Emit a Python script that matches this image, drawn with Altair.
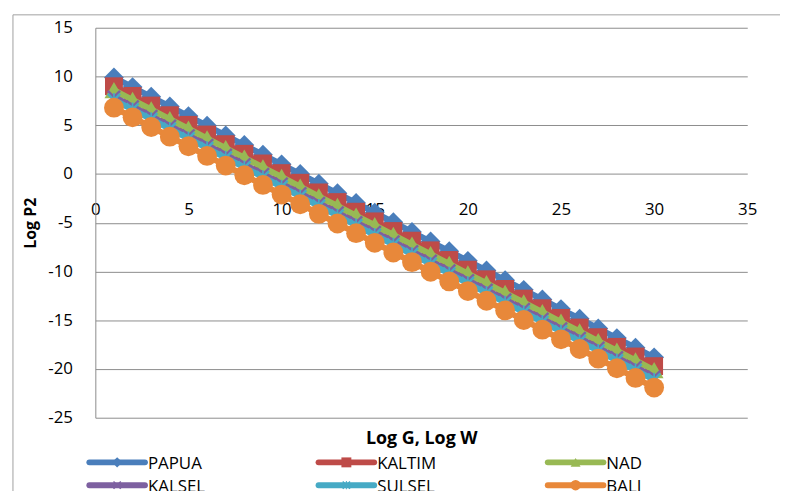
import altair as alt
import pandas as pd

# ---------------- data ----------------
X_VALUES = list(range(1, 31))
SERIES = ["PAPUA", "KALTIM", "NAD", "KALSEL", "SULSEL", "BALI"]

PAPUA = [9.90, 8.91, 7.92, 6.93, 5.94, 4.95, 3.96, 2.97, 1.98, 0.99, 0.00, -0.99,
         -1.98, -2.97, -3.96, -4.95, -5.94, -6.93, -7.92, -8.91, -9.90, -10.89,
         -11.88, -12.87, -13.86, -14.85, -15.84, -16.83, -17.82, -18.81]
KALTIM = [9.00, 8.01, 7.02, 6.03, 5.04, 4.05, 3.06, 2.07, 1.08, 0.09, -0.90, -1.89,
          -2.88, -3.87, -4.86, -5.85, -6.84, -7.83, -8.82, -9.81, -10.80, -11.79,
          -12.78, -13.77, -14.76, -15.75, -16.74, -17.73, -18.72, -19.71]
NAD = [8.60, 7.61, 6.62, 5.63, 4.64, 3.65, 2.66, 1.67, 0.68, -0.31, -1.30, -2.29,
       -3.28, -4.27, -5.26, -6.25, -7.24, -8.23, -9.22, -10.21, -11.20, -12.19,
       -13.18, -14.17, -15.16, -16.15, -17.14, -18.13, -19.12, -20.11]
KALSEL = [7.90, 6.91, 5.92, 4.93, 3.94, 2.95, 1.96, 0.97, -0.02, -1.01, -2.00, -2.99,
          -3.98, -4.97, -5.96, -6.95, -7.94, -8.93, -9.92, -10.91, -11.90, -12.89,
          -13.88, -14.87, -15.86, -16.85, -17.84, -18.83, -19.82, -20.81]
SULSEL = [7.60, 6.61, 5.62, 4.63, 3.64, 2.65, 1.66, 0.67, -0.32, -1.31, -2.30, -3.29,
          -4.28, -5.27, -6.26, -7.25, -8.24, -9.23, -10.22, -11.21, -12.20, -13.19,
          -14.18, -15.17, -16.16, -17.15, -18.14, -19.13, -20.12, -21.11]
BALI = [6.80, 5.81, 4.82, 3.83, 2.84, 1.85, 0.86, -0.13, -1.12, -2.11, -3.10, -4.09,
        -5.08, -6.07, -7.06, -8.05, -9.04, -10.03, -11.02, -12.01, -13.00, -13.99,
        -14.98, -15.97, -16.96, -17.95, -18.94, -19.93, -20.92, -21.91]
VALUES = [PAPUA, KALTIM, NAD, KALSEL, SULSEL, BALI]

X_TICKS = [0, 5, 10, 15, 20, 25, 30, 35]
Y_TICKS = [-25, -20, -15, -10, -5, 0, 5, 10, 15]

# ---------------- styles ----------------
COLORS = ["#4A7EBB", "#BE4B48", "#98B954", "#7D60A0", "#46AAC5", "#E8883A"]
X_PATH = ("M-1,-0.75L-0.75,-1L0,-0.25L0.75,-1L1,-0.75L0.25,0L1,0.75L0.75,1"
          "L0,0.25L-0.75,1L-1,0.75L-0.25,0Z")
STAR_PATH = X_PATH + "M-0.12,-1H0.12V-0.3H-0.12ZM-0.12,0.3H0.12V1H-0.12Z"
SHAPES = ["diamond", "square", "triangle-up", X_PATH, STAR_PATH, "circle"]
SIZES = [400, 324, 361, 196, 196, 400]
LEG_SIZES = [110, 100, 100, 70, 70, 110]

FONT = "Open Sans"
GRAY = "#8C8C8C"
W, H = 657, 393

rows = []
for name, vals in zip(SERIES, VALUES):
    for x, y in zip(X_VALUES, vals):
        rows.append({"series": name, "x": x, "y": y})
df = pd.DataFrame(rows)

x_enc = alt.X(
    "x:Q",
    scale=alt.Scale(domain=[0, 35], nice=False, zero=False),
    axis=alt.Axis(
        values=X_TICKS, title="Log G, Log W", offset=-220, domain=False, ticks=False,
        grid=False, labelPadding=2, labelFont=FONT, labelFontSize=17, labelColor="black",
        labelFlush=False, labelOverlap=False, labelExpr="datum.value + ''",
        titleFont=FONT, titleFontSize=18, titleFontWeight="bold", titleColor="black",
        titleY=246, titleBaseline="alphabetic",
    ),
)
y_enc = alt.Y(
    "y:Q",
    scale=alt.Scale(domain=[-25, 15], nice=False, zero=False),
    axis=alt.Axis(
        values=Y_TICKS, title="Log P2", domain=True, domainColor=GRAY, domainWidth=1,
        ticks=False, grid=True, gridColor=GRAY, gridWidth=1, labelPadding=23,
        labelFont=FONT, labelFontSize=17, labelColor="black", labelFlush=False,
        labelExpr="datum.value + ''",
        titleFont=FONT, titleFontSize=16, titleFontWeight="bold", titleColor="black",
        titleX=-60, titleY=H / 2, titleAngle=270, titleBaseline="alphabetic",
        titleAlign="center",
    ),
)

one = pd.DataFrame({"a": [0]})
border_top = alt.Chart(one).mark_rule(color="#A0A0A0", strokeWidth=1).encode(
    x=alt.value(-83), x2=alt.value(690), y=alt.value(-13)
)
border_left = alt.Chart(one).mark_rule(color="#A0A0A0", strokeWidth=1).encode(
    x=alt.value(-83), y=alt.value(-13), y2=alt.value(470)
)

layers = [border_top, border_left]
for i, name in enumerate(SERIES):
    base = alt.Chart(df).transform_filter(alt.datum.series == name)
    layers.append(
        base.mark_line(color=COLORS[i], strokeWidth=6).encode(x=x_enc, y=y_enc)
    )
    layers.append(
        base.mark_point(filled=True, opacity=1, color=COLORS[i], shape=SHAPES[i],
                        size=SIZES[i]).encode(x=x_enc, y=y_enc)
    )

# manual legend (line + marker + label), 3 columns
LEG_X0, LEG_DX, LEG_Y0, LEG_DY, LEG_LEN = -6, 231, 438, 23, 56
for i, name in enumerate(SERIES):
    px = LEG_X0 + (i % 3) * LEG_DX
    py = LEG_Y0 + (i // 3) * LEG_DY
    ldata = alt.Chart(pd.DataFrame({"series": [name]}))
    layers.append(
        ldata.mark_rule(color=COLORS[i], strokeWidth=6, strokeCap="round").encode(
            x=alt.value(px), x2=alt.value(px + LEG_LEN), y=alt.value(py)
        )
    )
    layers.append(
        ldata.mark_point(filled=True, opacity=1, color=COLORS[i], shape=SHAPES[i],
                         size=LEG_SIZES[i]).encode(
            x=alt.value(px + LEG_LEN / 2), y=alt.value(py)
        )
    )
    layers.append(
        ldata.mark_text(align="left", baseline="alphabetic", font=FONT, fontSize=17,
                        color="black").encode(
            x=alt.value(px + LEG_LEN + 3), y=alt.value(py + 7), text="series:N"
        )
    )

chart = (
    alt.layer(*layers)
    .properties(width=W, height=H,
                padding={"left": 4, "top": 4, "right": 0, "bottom": 0},
                background="white")
    .configure_view(stroke=None)
)

chart.save("out.html", embed_options={"renderer": "svg", "actions": False})
